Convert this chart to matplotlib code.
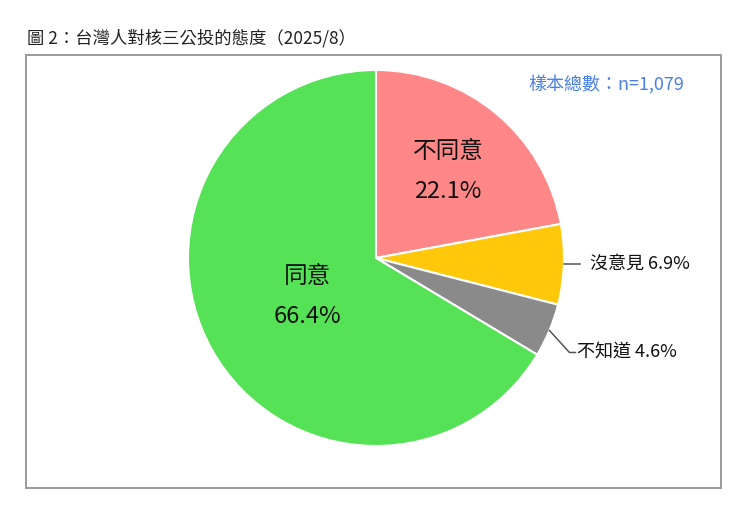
import numpy as np
import matplotlib
matplotlib.use("Agg")
import matplotlib.pyplot as plt
from matplotlib.patches import Rectangle

plt.rcParams["font.family"] = ["Noto Sans CJK TC", "DejaVu Sans"]

# ── data ────────────────────────────────────────────────
labels = ["不同意", "沒意見", "不知道", "同意"]
values = [22.1, 6.9, 4.6, 66.4]
colors = ["#FF8787", "#FFC80A", "#8A8A8A", "#56E256"]
inside = [True, False, False, True]

TITLE = "圖 2：台灣人對核三公投的態度（2025/8）"
SAMPLE = "樣本總數：n=1,079"

W, H = 750, 511
CX, CY, R = 376, H - 258, 188

fig = plt.figure(figsize=(W / 100, H / 100), dpi=100)
ax = fig.add_axes([0, 0, 1, 1])

# frame
ax.add_patch(Rectangle((26, H - 488), 695, 433, fill=False,
                       edgecolor="#9a9a9a", linewidth=1.4))

wedges, _ = ax.pie(values, colors=colors, startangle=90, counterclock=False,
                   center=(CX, CY), radius=R, frame=True,
                   wedgeprops=dict(edgecolor="white", linewidth=1.5))
ax.set_xlim(0, W)
ax.set_ylim(0, H)
ax.set_aspect("equal")
ax.axis("off")

# inner label distances (fraction of radius)
inner_r = {"不同意": 0.60, "同意": 0.42}

for w, lab, val, ins in zip(wedges, labels, values, inside):
    mid = np.deg2rad((w.theta1 + w.theta2) / 2)
    ca, sa = np.cos(mid), np.sin(mid)
    if ins:
        d = inner_r[lab] * R
        x, y = CX + d * ca, CY + d * sa
        ax.text(x, y + 20, lab, ha="center", va="center", fontsize=17,
                color="#111", fontweight="medium")
        ax.text(x, y - 20, f"{val}%", ha="center", va="center", fontsize=17,
                color="#111", fontweight="medium")
    else:
        x0, y0 = CX + R * ca, CY + R * sa
        if sa > -0.1:
            xs, ys = [x0, x0 + 16], [y0, y0]
            tx = xs[-1] + 10
        else:
            xs, ys = [x0, x0 + 20, x0 + 26], [y0, y0 - 22, y0 - 22]
            tx = xs[-1] + 2
        ax.plot(xs, ys, color="#555", linewidth=1.1)
        ax.text(tx, ys[-1] + 1, f"{lab} {val}%", ha="left", va="center",
                fontsize=13, color="#111", fontweight="medium")

fig.text(27 / W, 1 - 38 / H, TITLE, ha="left", va="center", fontsize=12.5, color="#222")
ax.text(684, H - 84, SAMPLE, ha="right", va="center", fontsize=13,
        color="#4A7FE6", fontweight="medium")

fig.savefig("out.png", dpi=100)
